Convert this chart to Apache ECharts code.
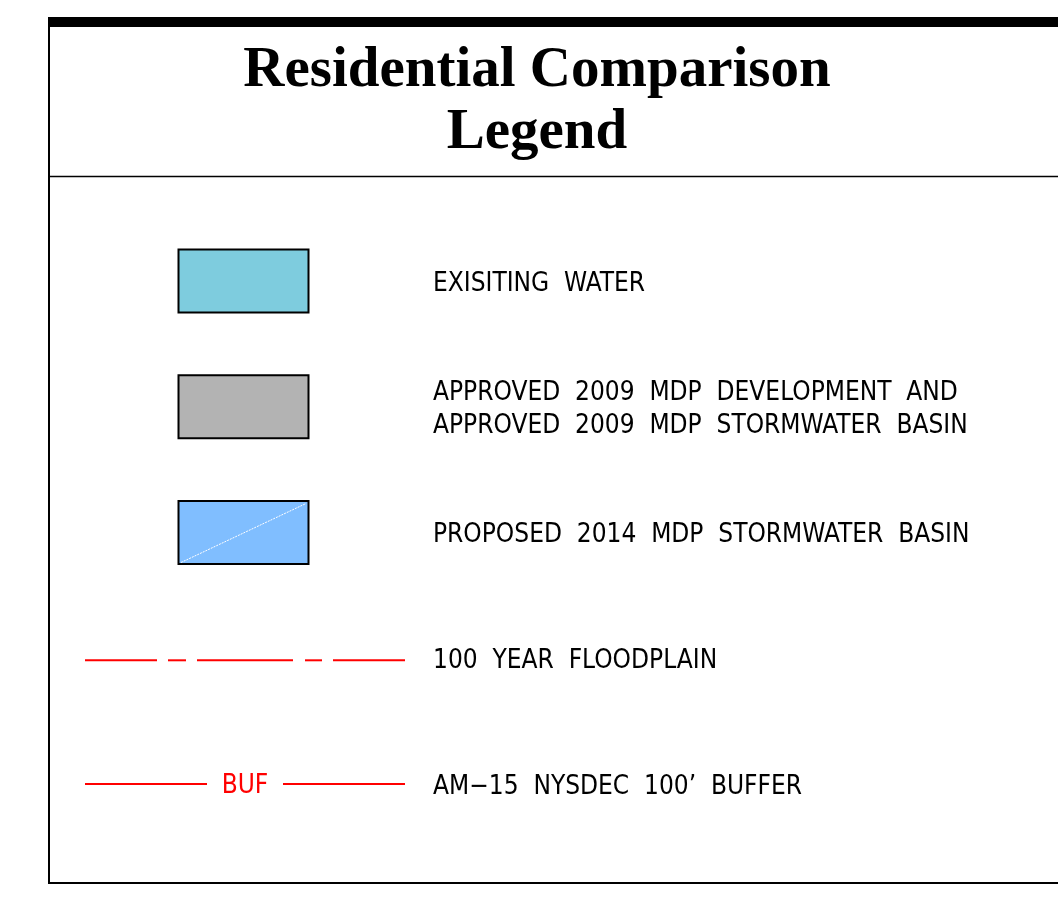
<!DOCTYPE html>
<html>
<head>
<meta charset="utf-8">
<title>Residential Comparison Legend</title>
<script src="https://cdn.jsdelivr.net/npm/echarts@6/dist/echarts.min.js"></script>
<style>
  html, body { margin: 0; padding: 0; background: #fff; }
  #chart { width: 1058px; height: 902px; }
</style>
</head>
<body>
<div id="chart"></div>
<script>
// legend rows, top to bottom
const rowLabels = [
  'EXISITING  WATER',
  'APPROVED  2009  MDP  DEVELOPMENT  AND\nAPPROVED  2009  MDP  STORMWATER  BASIN',
  'PROPOSED  2014  MDP  STORMWATER  BASIN',
  '100  YEAR  FLOODPLAIN',
  'AM\u221215  NYSDEC  100\u2019  BUFFER'
];
const rowKinds = ['box', 'box', 'hatch', 'dash', 'buf'];
const rowColors = ['#7eccde', '#b3b3b3', '#80beff', '#ff0000', '#ff0000'];
const titleLines = ['Residential Comparison', 'Legend'];

const chart = echarts.init(document.getElementById('chart'));

function renderRow(params, api) {
  const i = api.value(1);
  const y = api.coord([0, i])[1];
  const kind = rowKinds[i];
  const color = rowColors[i];
  const children = [];
  if (kind === 'box' || kind === 'hatch') {
    children.push({
      type: 'rect',
      shape: { x: 178.5, y: y - 31.5, width: 130, height: 63 },
      style: { fill: color, stroke: '#000', lineWidth: 2 }
    });
    if (kind === 'hatch') {
      children.push({
        type: 'line',
        shape: { x1: 181, y1: y + 30, x2: 306, y2: y - 29 },
        style: { stroke: '#fff', lineWidth: 1, lineDash: [2, 1] }
      });
    }
  } else if (kind === 'dash') {
    // long - short - long - short - long
    const segs = [[85, 157], [168, 186], [197, 293], [305, 322], [333, 405]];
    segs.forEach(s => children.push({
      type: 'line',
      shape: { x1: s[0], y1: y + 2, x2: s[1], y2: y + 2 },
      style: { stroke: color, lineWidth: 2 }
    }));
  } else if (kind === 'buf') {
    [[85, 207], [283, 405]].forEach(s => children.push({
      type: 'line',
      shape: { x1: s[0], y1: y, x2: s[1], y2: y },
      style: { stroke: color, lineWidth: 2 }
    }));
    children.push({
      type: 'text',
      style: {
        x: 245, y: y + 2, text: 'BUF', fill: color,
        font: '26px "DejaVu Sans Condensed"',
        textAlign: 'center', textVerticalAlign: 'middle'
      }
    });
  }
  children.push({
    type: 'text',
    style: {
      x: 433, y: y + 3, text: rowLabels[i], fill: '#000',
      font: '26px "DejaVu Sans Condensed"',
      lineHeight: 33,
      textAlign: 'left', textVerticalAlign: 'middle'
    }
  });
  return { type: 'group', children: children };
}

const option = {
  animation: false,
  backgroundColor: '#fff',
  grid: { left: 0, right: 0, top: 218, bottom: 55 },
  xAxis: { type: 'value', min: 0, max: 1, show: false },
  yAxis: {
    type: 'category', inverse: true, show: false,
    data: rowLabels.map((l, i) => i)
  },
  graphic: [
    // frame
    { type: 'rect', shape: { x: 48, y: 17, width: 1010, height: 10 }, style: { fill: '#000' } },
    { type: 'line', shape: { x1: 49, y1: 20, x2: 49, y2: 884 }, style: { stroke: '#000', lineWidth: 2 } },
    { type: 'line', shape: { x1: 48, y1: 176.5, x2: 1058, y2: 176.5 }, style: { stroke: '#000', lineWidth: 1.5 } },
    { type: 'line', shape: { x1: 48, y1: 883, x2: 1058, y2: 883 }, style: { stroke: '#000', lineWidth: 2 } },
    // title
    {
      type: 'text',
      style: {
        x: 537, y: 71, text: titleLines[0], fill: '#000',
        font: 'bold 57px "Liberation Serif"',
        textAlign: 'center', textVerticalAlign: 'middle'
      }
    },
    {
      type: 'text',
      style: {
        x: 537, y: 133, text: titleLines[1], fill: '#000',
        font: 'bold 57px "Liberation Serif"',
        textAlign: 'center', textVerticalAlign: 'middle'
      }
    }
  ],
  series: [{
    type: 'custom',
    renderItem: renderRow,
    data: rowLabels.map((l, i) => [0, i]),
    encode: { x: 0, y: 1 },
    silent: true
  }]
};

chart.setOption(option);
</script>
</body>
</html>
